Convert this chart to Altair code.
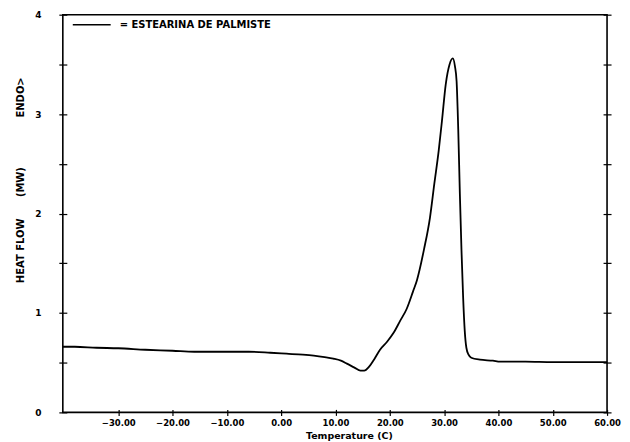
import altair as alt
import pandas as pd

# ---- data ----
temperature = [-40.2, -38.0, -34.0, -30.0, -25.0, -20.0, -16.0, -10.0, -6.0, -2.0,
               1.0, 4.0, 6.0, 8.0, 9.6, 11.0, 12.1, 13.5, 14.6, 15.3,
               16.2, 17.2, 18.2, 19.5, 20.7, 21.9, 23.1, 24.3, 25.0, 26.3,
               27.4, 28.2, 29.0, 29.6, 30.3, 31.0, 31.6, 32.0, 32.3, 32.6,
               32.9, 33.2, 33.5, 33.8, 34.1, 34.5, 35.0, 36.6, 39.0, 40.3,
               45.0, 50.0, 55.0, 60.0]
heat_flow = [0.66, 0.66, 0.65, 0.645, 0.63, 0.62, 0.61, 0.61, 0.61, 0.60,
             0.59, 0.58, 0.57, 0.555, 0.54, 0.52, 0.49, 0.45, 0.42, 0.42,
             0.46, 0.54, 0.63, 0.71, 0.80, 0.92, 1.04, 1.22, 1.33, 1.64,
             1.96, 2.30, 2.63, 2.93, 3.30, 3.50, 3.56, 3.48, 3.33, 2.85,
             2.20, 1.63, 1.16, 0.82, 0.65, 0.58, 0.55, 0.53, 0.52, 0.51,
             0.51, 0.505, 0.505, 0.505]
series_name = "= ESTEARINA DE PALMISTE"
x_ticks = [-30, -20, -10, 0, 10, 20, 30, 40, 50, 60]
y_ticks = [0, 0.5, 1, 1.5, 2, 2.5, 3, 3.5, 4]
x_title = "Temperature (C)"
y_title_parts = ["ENDO>", "(MW)", "HEAT FLOW"]

df = pd.DataFrame({"T": temperature, "HF": heat_flow, "serie": series_name})

FONT = "DejaVu Sans"
xscale = alt.Scale(domain=[-40.2, 60], nice=False, zero=False)
yscale = alt.Scale(domain=[0, 4], nice=False, zero=False)

x_enc = alt.X(
    "T:Q", scale=xscale,
    axis=alt.Axis(values=x_ticks, format=".2f", title=x_title, grid=False,
                  domain=False, offset=-3, tickSize=6, tickColor="black", tickWidth=1.2,
                  labelFont=FONT, labelFontWeight="bold", labelFontSize=8.5, labelColor="black",
                  labelPadding=3, titleFont=FONT, titleFontWeight="bold", titleFontSize=9.5,
                  titleColor="black", titleX=287, titlePadding=4, labelFlush=False),
)

line = alt.Chart(df).mark_line(color="black", strokeWidth=1.8, interpolate="monotone").encode(
    x=x_enc,
    y=alt.Y("HF:Q", scale=yscale,
            axis=alt.Axis(orient="left", values=y_ticks, title=None, grid=False, domain=False,
                          offset=-4, tickSize=8, tickColor="black", tickWidth=1.2,
                          labelExpr="datum.value % 1 == 0 ? format(datum.value, 'd') : ''",
                          labelFont=FONT, labelFontWeight="bold", labelFontSize=9,
                          labelColor="black", labelPadding=18)),
    color=alt.Color("serie:N", scale=alt.Scale(range=["black"]),
                    legend=alt.Legend(title=None, orient="none", legendX=9, legendY=-10,
                                      symbolType="stroke", symbolSize=1444, symbolStrokeWidth=1.5,
                                      labelFont=FONT, labelFontWeight="bold", labelFontSize=10,
                                      labelColor="black", labelOffset=8, padding=0)),
)

right_axis = alt.Chart(df).mark_line(strokeOpacity=0).encode(
    x=x_enc,
    y=alt.Y("HF:Q", scale=yscale,
            axis=alt.Axis(orient="right", values=y_ticks, title=None, grid=False, domain=False,
                          labels=False, offset=-4, tickSize=8, tickColor="black", tickWidth=1.2)),
)

title_df = pd.DataFrame({"t": y_title_parts})
def ytext(i, ypix):
    return alt.Chart(title_df).transform_filter(f"datum.t == '{y_title_parts[i]}'").mark_text(
        angle=270, font=FONT, fontWeight="bold", fontSize=10, color="black"
    ).encode(text="t:N", x=alt.value(-42), y=alt.value(ypix))

chart = alt.layer(line, right_axis, ytext(0, 83), ytext(1, 168), ytext(2, 237)).resolve_axis(
    y="independent"
).properties(
    width=546, height=399, autosize="none", background="white",
    padding={"left": 55, "top": 6, "right": 15, "bottom": 28},
).configure_view(stroke="black", strokeWidth=1.6, strokeOpacity=1)

chart.save("out.html", embed_options={"renderer": "svg", "actions": False})
